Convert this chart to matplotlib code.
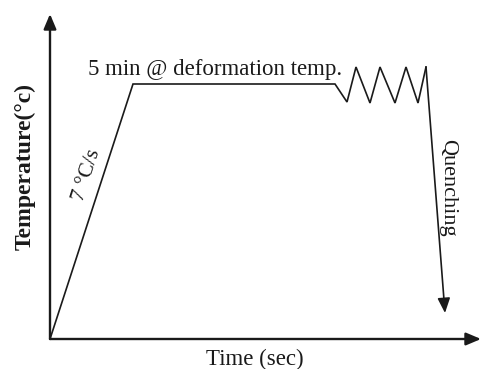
import matplotlib
matplotlib.use("Agg")
import matplotlib.pyplot as plt

# Schematic thermal cycle (time, temperature) in arbitrary units
time = [0, 83, 285, 297, 306, 320, 330, 345, 356, 368, 376]
temp = [0, 255, 255, 237, 272, 236, 272, 236, 272, 236, 272]
quench_end = (395, 26)

hold_label = "5 min @ deformation temp."
rate_label = "7 °C/s"
quench_label = "Quenching"
xlabel = "Time (sec)"
ylabel = "Temperature(°c)"

serif = ["Liberation Serif", "DejaVu Serif"]

fig = plt.figure(figsize=(4.81, 3.69), dpi=100)
ax = fig.add_axes([0, 0, 1, 1])
ax.set_xlim(-50, 431)
ax.set_ylim(-30, 339)
ax.axis("off")

col = "#1a1a1a"
head = "-|>,head_length=0.9,head_width=0.38"
ax.annotate("", xy=(0, 325), xytext=(0, 0),
            arrowprops=dict(arrowstyle=head, lw=1.7, color=col, shrinkA=0, shrinkB=0))
ax.annotate("", xy=(431, 0), xytext=(0, 0),
            arrowprops=dict(arrowstyle=head, lw=1.7, color=col, shrinkA=0, shrinkB=0))

ax.plot(time, temp, color=col, lw=1.2, solid_joinstyle="miter")
ax.annotate("", xy=quench_end, xytext=(time[-1], temp[-1]),
            arrowprops=dict(arrowstyle=head, lw=1.2, color=col, shrinkA=0, shrinkB=0))

ax.text(38, 264, hold_label, family=serif, fontsize=16.5, ha="left", va="baseline", color=col)
ax.text(37, 164, rate_label, family=serif, fontsize=15.5, ha="center", va="center", rotation=72, color=col)
ax.text(398, 151, quench_label, family=serif, fontsize=16, ha="center", va="center", rotation=-90, color=col)
ax.text(205, -26, xlabel, family=serif, fontsize=16.5, ha="center", va="baseline", color=col)
ax.text(-25, 172, ylabel, family=serif, fontsize=17, fontweight="bold", ha="center", va="center", rotation=90, color=col)

fig.savefig("out.png", dpi=100)
